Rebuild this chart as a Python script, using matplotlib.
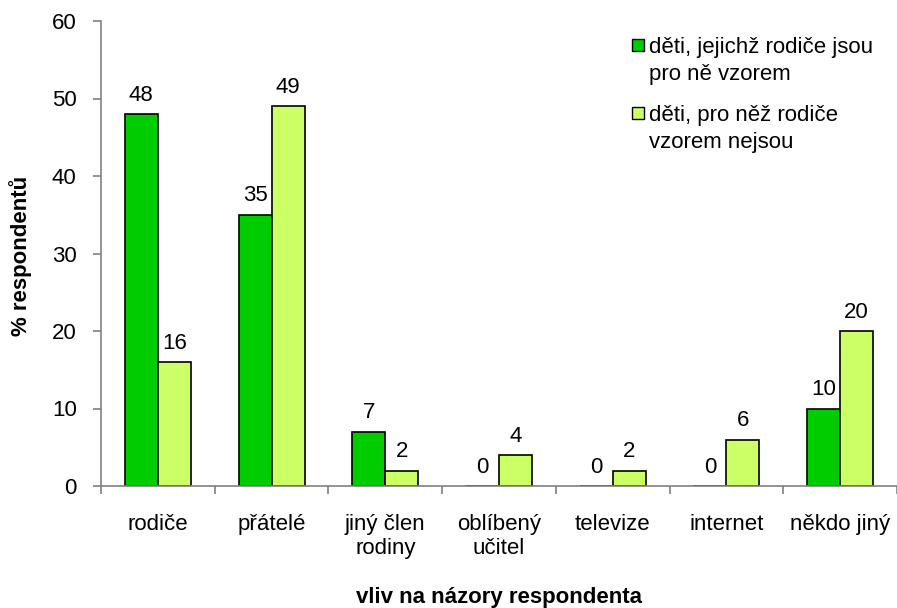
import numpy as np
import matplotlib.pyplot as plt
from matplotlib.patches import Rectangle

plt.rcParams['font.family'] = ['Liberation Sans', 'DejaVu Sans']

categories = ["rodiče", "přátelé", "jiný člen\nrodiny", "oblíbený\nučitel",
              "televize", "internet", "někdo jiný"]
parents_model = [48, 35, 7, 0, 0, 0, 10]
parents_not_model = [16, 49, 2, 4, 2, 6, 20]
series_names = ["děti, jejichž rodiče jsou\npro ně vzorem",
                "děti, pro něž rodiče\nvzorem nejsou"]

c_dark = "#00CC00"
c_light = "#CCFF66"
grey = "#808080"
fs = 16

W, H = 897, 608
fig = plt.figure(figsize=(W / 100, H / 100), dpi=100)
ax = fig.add_axes([101 / W, 1 - 486 / H, 1 - 101 / W, (486 - 21) / H])

x = np.arange(len(categories))
w = 0.29
b1 = ax.bar(x - w / 2, parents_model, w, color=c_dark, edgecolor="black", linewidth=1.2)
b2 = ax.bar(x + w / 2, parents_not_model, w, color=c_light, edgecolor="black", linewidth=1.2)

for bars, vals in ((b1, parents_model), (b2, parents_not_model)):
    for r, v in zip(bars, vals):
        ax.annotate(str(v), (r.get_x() + r.get_width() / 2, v), xytext=(0, 6),
                    textcoords="offset points", ha="center", va="bottom", fontsize=fs)

ax.set_xlim(-0.5, len(categories) - 0.5)
ax.set_ylim(0, 60)
ax.set_yticks(range(0, 61, 10))
ax.set_xticks(np.arange(len(categories) + 1) - 0.5)
ax.set_xticklabels([])
ax.set_xticks(x, minor=True)
ax.set_xticklabels(categories, minor=True, fontsize=fs, linespacing=1.2)
ax.tick_params(axis="x", which="minor", length=0, pad=20)
ax.tick_params(axis="x", which="major", length=5.5, color=grey, width=1.2)
ax.tick_params(axis="y", length=5.5, color=grey, width=1.2, labelsize=fs, pad=12)

for s in ("top", "right"):
    ax.spines[s].set_visible(False)
for s in ("left", "bottom"):
    ax.spines[s].set_color(grey)
    ax.spines[s].set_linewidth(1.2)

fig.text(21 / W, 1 - 256 / H, "% respondentů", rotation=90, ha="center", va="center",
         fontsize=fs, fontweight="bold")
fig.text(499 / W, 1 - 603 / H, "vliv na názory respondenta", ha="center", va="baseline",
         fontsize=fs, fontweight="bold")

# legend drawn by hand so the marker sits at the first line
for i, (name, col) in enumerate(zip(series_names, (c_dark, c_light))):
    base = 53 + i * 68
    fig.patches.append(Rectangle((632 / W, 1 - (base - 2) / H), 12 / W, 12 / H,
                                 transform=fig.transFigure, facecolor=col,
                                 edgecolor="black", linewidth=1))
    for j, line in enumerate(name.split("\n")):
        fig.text(649 / W, 1 - (base + 27 * j) / H, line, ha="left", va="baseline", fontsize=fs)

fig.savefig("out.png", dpi=100)
